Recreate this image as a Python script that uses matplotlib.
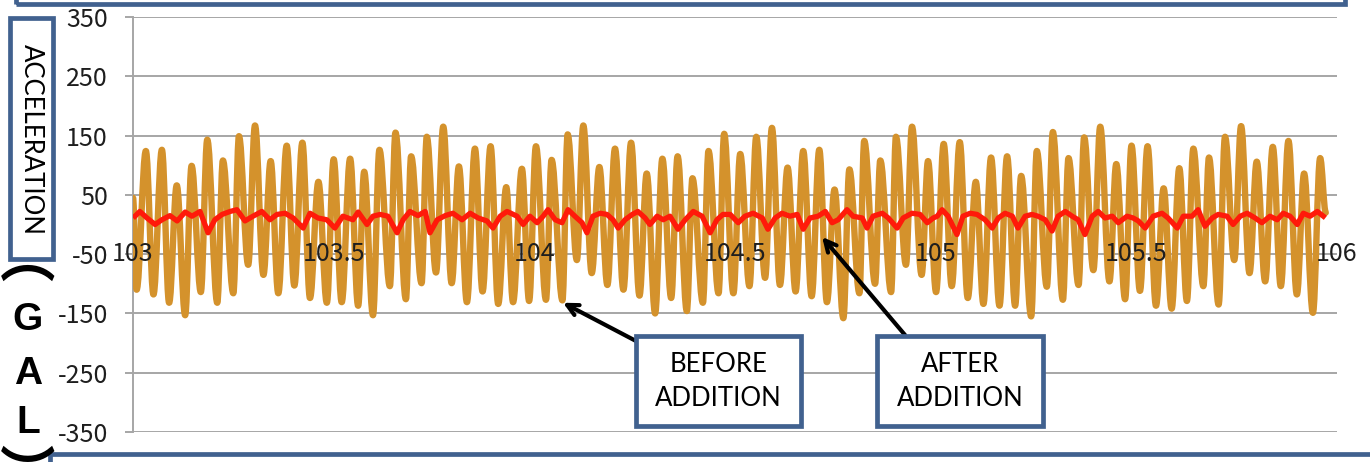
import matplotlib
matplotlib.use('Agg')
import matplotlib.pyplot as plt
from matplotlib.patches import Rectangle, PathPatch
from matplotlib.path import Path
import numpy as np

# ---------------- data ----------------
x_ticks = [103, 103.5, 104, 104.5, 105, 105.5, 106]
x_tick_labels = ['103', '103.5', '104', '104.5', '105', '105.5', '106']
y_ticks = [-350, -250, -150, -50, 50, 150, 250, 350]
y_tick_labels = ['-350', '-250', '-150', '-50', '50', '150', '250', '350']

# "before addition" signal: local maxima and minima of the oscillation
before_peak_t = [103.032, 103.072, 103.109, 103.146, 103.185, 103.224, 103.264, 103.304, 103.343, 103.383,
                 103.422, 103.462, 103.500, 103.541, 103.576, 103.614, 103.654, 103.693, 103.732, 103.773,
                 103.812, 103.852, 103.891, 103.930, 103.969, 104.004, 104.043, 104.083, 104.122, 104.162,
                 104.201, 104.241, 104.280, 104.319, 104.357, 104.394, 104.434, 104.473, 104.513, 104.553,
                 104.592, 104.631, 104.670, 104.710, 104.748, 104.785, 104.822, 104.862, 104.901, 104.941,
                 104.981, 105.020, 105.060, 105.100, 105.138, 105.178, 105.213, 105.252, 105.292, 105.331,
                 105.370, 105.410, 105.450, 105.488, 105.528, 105.568, 105.607, 105.642, 105.681, 105.721,
                 105.761, 105.800, 105.840, 105.879, 105.918, 105.958]
before_peak_v = [124, 126, 66, 99, 143, 108, 149, 167, 107, 133,
                 138, 72, 110, 111, 89, 126, 155, 115, 148, 165,
                 98, 128, 132, 63, 94, 132, 109, 152, 167, 97,
                 128, 138, 86, 111, 115, 78, 124, 153, 119, 148,
                 163, 96, 124, 126, 59, 93, 141, 108, 148, 165,
                 107, 136, 139, 72, 113, 115, 82, 124, 156, 112,
                 147, 165, 102, 133, 132, 61, 95, 128, 113, 148,
                 166, 106, 131, 141, 86, 112]
before_trough_t = [103.009, 103.051, 103.090, 103.130, 103.169, 103.210, 103.250, 103.287, 103.325, 103.362,
                   103.402, 103.441, 103.483, 103.520, 103.561, 103.598, 103.640, 103.680, 103.719, 103.755,
                   103.794, 103.832, 103.871, 103.910, 103.947, 103.987, 104.029, 104.070, 104.106, 104.143,
                   104.182, 104.222, 104.262, 104.301, 104.341, 104.380, 104.420, 104.459, 104.496, 104.536,
                   104.575, 104.612, 104.651, 104.691, 104.729, 104.770, 104.810, 104.849, 104.889, 104.926,
                   104.965, 105.001, 105.040, 105.080, 105.119, 105.159, 105.198, 105.238, 105.277, 105.317,
                   105.356, 105.393, 105.433, 105.472, 105.509, 105.549, 105.588, 105.626, 105.667, 105.705,
                   105.744, 105.782, 105.821, 105.860, 105.900, 105.940]
before_trough_v = [-110, -118, -132, -153, -114, -132, -116, -68, -85, -116,
                   -103, -124, -132, -131, -137, -153, -104, -126, -99, -81,
                   -99, -131, -113, -134, -131, -129, -127, -128, -60, -82,
                   -102, -110, -120, -150, -124, -146, -132, -116, -116, -104,
                   -90, -102, -113, -121, -131, -158, -116, -100, -114, -68,
                   -85, -114, -104, -124, -134, -137, -137, -155, -105, -127,
                   -102, -77, -96, -126, -112, -137, -142, -129, -104, -135,
                   -60, -82, -96, -104, -118, -149]
before_start = (103.000, 45)
before_end = (105.972, 20)

# "after addition" signal
after_t = [103.005, 103.017, 103.035, 103.055, 103.072, 103.092, 103.110, 103.130, 103.147, 103.167,
           103.187, 103.204, 103.222, 103.242, 103.259, 103.279, 103.299, 103.321, 103.341, 103.359,
           103.379, 103.399, 103.424, 103.441, 103.461, 103.483, 103.503, 103.523, 103.548, 103.561,
           103.583, 103.598, 103.616, 103.635, 103.658, 103.673, 103.690, 103.710, 103.728, 103.740,
           103.758, 103.778, 103.797, 103.820, 103.840, 103.860, 103.882, 103.897, 103.915, 103.932,
           103.957, 103.972, 103.989, 104.007, 104.022, 104.034, 104.052, 104.069, 104.084, 104.101,
           104.119, 104.131, 104.146, 104.164, 104.181, 104.196, 104.209, 104.226, 104.244, 104.258,
           104.276, 104.288, 104.306, 104.321, 104.338, 104.358, 104.376, 104.396, 104.418, 104.438,
           104.455, 104.470, 104.488, 104.508, 104.525, 104.545, 104.568, 104.582, 104.600, 104.617,
           104.637, 104.655, 104.670, 104.687, 104.707, 104.725, 104.742, 104.757, 104.779, 104.794,
           104.817, 104.829, 104.844, 104.867, 104.882, 104.904, 104.919, 104.941, 104.961, 104.979,
           104.994, 105.004, 105.016, 105.031, 105.053, 105.068, 105.086, 105.103, 105.123, 105.141,
           105.156, 105.173, 105.191, 105.205, 105.223, 105.240, 105.255, 105.273, 105.290, 105.305,
           105.323, 105.340, 105.355, 105.372, 105.390, 105.405, 105.422, 105.440, 105.455, 105.477,
           105.492, 105.505, 105.522, 105.542, 105.564, 105.579, 105.602, 105.617, 105.639, 105.654,
           105.671, 105.689, 105.704, 105.726, 105.741, 105.759, 105.776, 105.796, 105.813, 105.833,
           105.851, 105.866, 105.883, 105.901, 105.916, 105.933, 105.951, 105.966]
after_v = [14, 22, 11, 0, 8, 15, 6, 21, 14, 22,
           -14, 8, 17, 22, 25, 6, 14, 22, 8, 17,
           19, 11, -6, 19, 11, 8, -6, 14, 8, 21,
           0, 14, 17, 14, -14, 8, 22, 15, 22, -14,
           8, 15, 19, 8, 19, 11, 6, -6, 14, 22,
           14, 0, 14, 3, 14, 25, 8, 3, 25, 14,
           3, -14, 14, 19, 17, 8, -6, 8, 17, 22,
           11, 0, 14, 8, 14, -8, 8, 22, 14, -14,
           8, 17, 17, 3, 14, 19, 11, -8, 11, 19,
           14, 17, -8, 11, 14, 22, 3, 8, 25, 14,
           11, -6, 14, 19, 11, -6, 11, 19, 17, 3,
           11, 14, 25, 14, -17, 14, 19, 17, 8, -6,
           11, 19, 14, -6, 14, 17, 14, 8, -11, 14,
           22, 14, 8, -17, 14, 22, 11, 14, 3, 14,
           11, 6, -6, 14, 19, 11, -6, 14, 14, 25,
           -3, 11, 17, 14, 0, 14, 19, 11, 3, 14,
           8, 19, 14, 0, 19, 14, 22, 14]

label_before = 'BEFORE\nADDITION'
label_after = 'AFTER\nADDITION'
before_arrow_tip = (104.0715, -132)
after_arrow_tip = (104.717, -21)

# ---------------- figure ----------------
W, H = 1370, 462
fig = plt.figure(figsize=(W / 100, H / 100), dpi=100)
fig.patch.set_facecolor('white')


def fx(px):
    return px / W


def fy(py):
    return 1 - py / H


ax = fig.add_axes([fx(133), fy(432), fx(1337) - fx(133), fy(17) - fy(432)])
ax.set_xlim(103, 106)
ax.set_ylim(-350, 350)

grid_col = '#a6a6a6'
for s in ['top', 'right', 'bottom']:
    ax.spines[s].set_visible(False)
ax.spines['left'].set_color(grid_col)
ax.spines['left'].set_linewidth(1.4)
ax.set_axisbelow(True)

tick_font = dict(family=['Noto Sans CJK JP', 'DejaVu Sans'], size=18, color='#1e1e1e')
ax.set_yticks(y_ticks)
ax.set_yticklabels(y_tick_labels, fontdict=tick_font)
ax.yaxis.grid(True, color=grid_col, linewidth=1.4)
ax.tick_params(axis='y', length=6, width=1.4, color=grid_col, pad=12)
ax.set_xticks([])

# before-addition curve: smooth half-wave segments between successive extremes
bt = np.array([before_start[0]] + before_peak_t + before_trough_t + [before_end[0]])
bv = np.array([before_start[1]] + before_peak_v + before_trough_v + [before_end[1]])
order = np.argsort(bt)
bt, bv = bt[order], bv[order]
verts = [(bt[0], bv[0])]
codes = [Path.MOVETO]
k = 1 - 2 / np.pi
for i in range(1, len(bt)):
    dt = bt[i] - bt[i - 1]
    verts += [(bt[i - 1] + k * dt, bv[i - 1]), (bt[i] - k * dt, bv[i]), (bt[i], bv[i])]
    codes += [Path.CURVE4] * 3
ax.add_patch(PathPatch(Path(verts, codes), facecolor='none', edgecolor='#d4922c',
                       linewidth=4.6, capstyle='round', joinstyle='round', zorder=3))

# after-addition curve
ax.plot(after_t, after_v, color='#ff1a0a', linewidth=3.8, solid_joinstyle='round', zorder=4)

# x tick labels sitting on the -50 line
for t, lab in zip(x_ticks, x_tick_labels):
    ax.text(t, -50, lab, ha='center', va='center', fontdict=tick_font, zorder=10, clip_on=False)

# arrows
arrow_props = dict(arrowstyle='->,head_length=0.8,head_width=0.4', color='black', lw=3.0,
                   shrinkA=0, shrinkB=0)
ax.annotate('', xy=before_arrow_tip, xycoords='data',
            xytext=(fx(636), fy(341)), textcoords='figure fraction',
            arrowprops=arrow_props, zorder=12, annotation_clip=False)
ax.annotate('', xy=after_arrow_tip, xycoords='data',
            xytext=(fx(905), fy(335)), textcoords='figure fraction',
            arrowprops=arrow_props, zorder=12, annotation_clip=False)

box_col = '#41618f'


def add_box(x0, y0, x1, y1, lw=3.4, fill='white'):
    r = Rectangle((fx(x0), fy(y1)), fx(x1) - fx(x0), fy(y0) - fy(y1),
                  transform=fig.transFigure, facecolor=fill, edgecolor=box_col,
                  linewidth=lw, zorder=20, clip_on=False)
    fig.add_artist(r)


box_font = dict(family=['Lato', 'DejaVu Sans'], size=18.5, color='black')

# annotation boxes
add_box(636, 336, 801, 426)
fig.text(fx(718.5), fy(382), label_before, ha='center', va='center', fontdict=box_font,
         linespacing=1.45, zorder=21)
add_box(877, 336, 1043, 426)
fig.text(fx(960), fy(382), label_after, ha='center', va='center', fontdict=box_font,
         linespacing=1.45, zorder=21)

# cropped frames at top and bottom
add_box(16, -40, 1345, 4, fill='none')
add_box(50, 454, 1420, 520, fill='none')

# y axis title
add_box(10, 18, 53, 259)
fig.text(fx(31.5), fy(139), 'ACCELERATION', rotation=-90, ha='center', va='center',
         fontdict=box_font, zorder=21)

# unit written vertically: (GAL) with vertical-form brackets
letter_chars = ['G', 'A', 'L']
letter_y = [320, 374, 423]
for ch, yy in zip(letter_chars, letter_y):
    fig.text(fx(28), fy(yy), ch, ha='center', va='center', fontsize=28,
             family='Liberation Sans', weight='bold', color='black', zorder=21)
bracket_chars = ['\ufe35', '\ufe36']
bracket_y = [261, 476]
for ch, yy in zip(bracket_chars, bracket_y):
    fig.text(fx(28), fy(yy), ch, ha='center', va='center', fontsize=40,
             family=['Noto Sans CJK JP', 'DejaVu Sans'], weight='bold', color='black', zorder=21)

fig.savefig('out.png', dpi=100, facecolor='white')
